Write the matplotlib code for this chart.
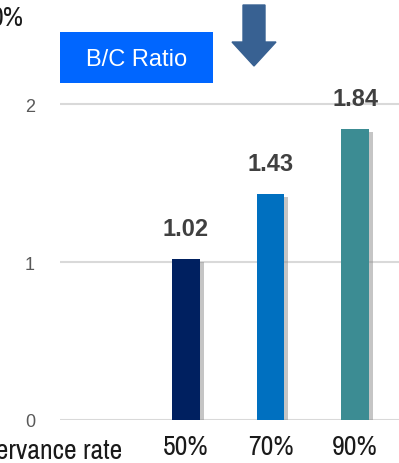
import matplotlib.pyplot as plt
import matplotlib.patheffects as pe
from matplotlib.patches import FancyArrow, Rectangle

categories = ['50%', '70%', '90%']
values = [1.02, 1.43, 1.84]
colors = ['#002060', '#0070C0', '#3C8C93']
yticks = [0, 1, 2]

plt.rcParams['font.family'] = ['Liberation Sans', 'DejaVu Sans']
narrow = ['Liberation Sans Narrow', 'Archivo Narrow', 'DejaVu Sans']

fig = plt.figure(figsize=(3.99, 4.64), dpi=100)
W, H = 399, 464
ax = fig.add_axes([60 / W, (H - 421) / H, 1 - 60 / W, 421 / H])

x = list(range(len(categories)))
bars = ax.bar(x, values, width=0.325, color=colors, zorder=3)
for b in bars:
    b.set_path_effects([pe.SimplePatchShadow(offset=(3, -2), shadow_rgbFace='#8c8c8c', alpha=0.5), pe.Normal()])

for xi, v in zip(x, values):
    ax.text(xi, v + 0.12, f'{v:.2f}', ha='center', va='bottom', fontsize=17,
            fontweight='bold', color='#404040', zorder=4)

ax.set_xlim(-1.49, 2.52)
ax.set_ylim(0, 2.665)
ax.set_yticks(yticks)
ax.set_yticklabels([str(t) for t in yticks])
ax.set_xticks(x)
ax.set_xticklabels(categories, family=narrow, fontsize=20, color='#1a1a1a')
ax.tick_params(axis='y', length=0, pad=18, labelsize=13, labelcolor='#595959')
ax.tick_params(axis='x', length=0, pad=10)
ax.grid(axis='y', color='#D9D9D9', linewidth=1.5, zorder=0)
for s in ax.spines.values():
    s.set_visible(False)

# partial labels cut by the crop
fig.text(122 / W, 1 - 452 / H, 'Observance rate', ha='right', va='center',
         fontsize=20, family=narrow, color='#1a1a1a')
fig.text(24 / W, 1 - 18 / H, '0%', ha='right', va='center', fontsize=20,
         family=narrow, color='#1a1a1a')

# B/C Ratio box
fig.patches.append(Rectangle((60 / W, 1 - 84 / H), 153 / W, 51 / H, transform=fig.transFigure,
                             facecolor='#0066FF', edgecolor='none'))
fig.text(136.5 / W, 1 - 60 / H, 'B/C Ratio', ha='center', va='center', fontsize=17, color='white')

# down arrow
fig.patches.append(FancyArrow(254 / W, 1 - 6 / H, 0, -61 / H, width=22 / W, head_width=44 / W,
                              head_length=24 / H, length_includes_head=True,
                              transform=fig.transFigure, color='#386192'))

fig.savefig('out.png', dpi=100)
